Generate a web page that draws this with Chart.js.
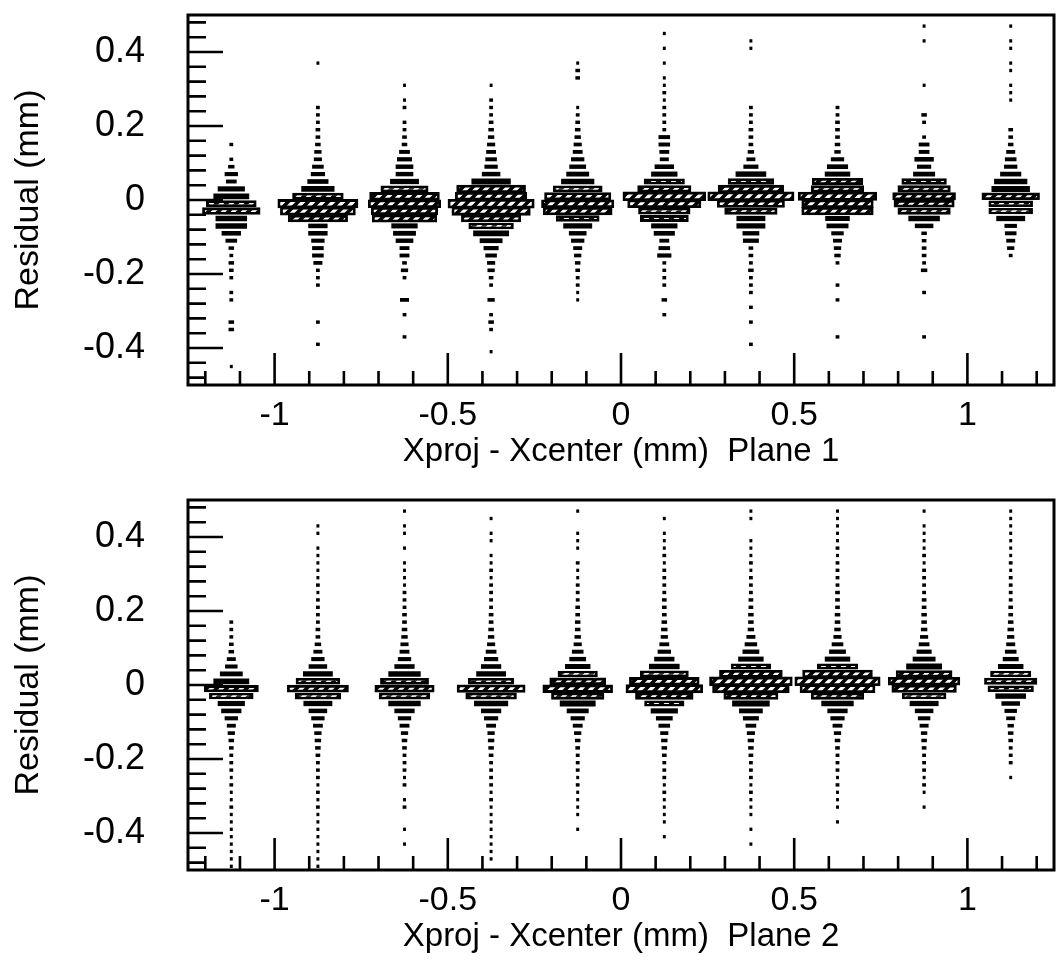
<!DOCTYPE html>
<html>
<head>
<meta charset="utf-8">
<title>Residual vs Xproj - Xcenter</title>
<script src="https://cdn.jsdelivr.net/npm/chart.js@4.4.1/dist/chart.umd.min.js"></script>
<style>
  html, body { margin: 0; padding: 0; background: #fff; }
  .panel { position: absolute; left: 0; width: 1062px; height: 486px; }
  #p1 { top: 0; }
  #p2 { top: 485px; }
</style>
</head>
<body>
<div class="panel" id="p1"><canvas id="plane1Chart"></canvas></div>
<div class="panel" id="p2"><canvas id="plane2Chart"></canvas></div>
<script>
// column centres (mm) and residual bin centres (mm), top row first
const xCenters = [-1.125, -0.875, -0.625, -0.375, -0.125, 0.125, 0.375, 0.625, 0.875, 1.125];
const yCenters = [0.49, 0.47, 0.45, 0.43, 0.41, 0.39, 0.37, 0.35, 0.33, 0.31,
                  0.29, 0.27, 0.25, 0.23, 0.21, 0.19, 0.17, 0.15, 0.13, 0.11,
                  0.09, 0.07, 0.05, 0.03, 0.01, -0.01, -0.03, -0.05, -0.07, -0.09,
                  -0.11, -0.13, -0.15, -0.17, -0.19, -0.21, -0.23, -0.25, -0.27, -0.29,
                  -0.31, -0.33, -0.35, -0.37, -0.39, -0.41, -0.43, -0.45, -0.47, -0.49];
const xTickLabels = [-1, -0.5, 0, 0.5, 1];
const yTickLabels = [-0.4, -0.2, 0, 0.2, 0.4];

// box size per bin, % of the column width (one list per column, rows as yCenters)
const plane1 = [
  [0,0,0,0,0,0,0,0,0,0, 0,0,0,0,0,0,0,3,0,3, 6,14,11,30,40,57,66,35,35,21, 12,5,3,5,4,3,0,3,3,0, 0,5,5,0,0,0,0,2,0,0],
  [0,0,0,0,0,0,2,0,0,0, 0,0,3,3,3,4,4,5,7,8, 12,15,23,37,58,92,86,68,21,21, 14,12,12,9,3,3,3,0,0,0, 0,3,0,0,3,0,0,0,0,0],
  [0,0,0,0,0,0,0,0,0,2, 0,2,3,0,3,3,4,5,11,16, 19,19,32,54,80,83,76,74,29,25, 19,10,10,4,7,3,0,0,9,0, 3,0,0,3,0,0,0,0,0,0],
  [0,0,0,0,0,0,0,0,0,2, 0,3,3,3,4,5,6,8,10,12, 14,20,44,79,82,99,90,68,51,40, 25,16,12,8,7,4,3,0,7,0, 3,5,3,0,0,2,0,0,0,0],
  [0,0,0,0,0,0,2,4,4,0, 0,0,2,3,4,5,6,8,10,14, 18,25,37,56,76,83,79,49,32,19, 14,9,7,5,4,3,3,2,2,0, 0,0,0,0,0,0,0,0,0,0],
  [0,0,2,0,2,0,2,0,2,2, 3,2,3,3,3,3,12,12,10,9, 21,29,46,61,95,84,59,55,29,23, 10,12,15,3,3,3,3,0,5,0, 3,0,0,0,0,0,0,0,0,0],
  [0,0,0,2,2,0,0,0,0,0, 0,0,3,3,3,4,4,4,6,9, 16,34,52,75,99,77,60,32,32,18, 17,4,4,3,5,3,3,3,0,3, 0,3,0,0,3,0,0,0,0,0],
  [0,0,0,0,0,0,0,0,0,0, 0,0,3,3,4,4,4,5,6,14, 23,28,58,60,90,82,82,27,24,13, 9,7,6,3,0,0,3,0,3,0, 0,0,0,3,0,0,0,0,0,0],
  [0,2,0,2,0,0,0,0,0,2, 0,0,0,5,3,0,3,11,11,21, 15,24,51,60,72,69,60,35,20,5, 4,4,4,3,6,0,0,3,0,0, 0,0,0,3,0,0,0,0,0,0],
  [0,2,0,2,2,0,2,2,0,2, 2,2,0,0,0,4,4,5,9,12, 14,23,37,43,66,50,50,32,13,12, 9,7,3,0,0,0,0,0,0,0, 0,0,0,0,0,0,0,0,0,0]
];
const plane2 = [
  [0,0,0,0,0,0,0,0,0,0, 0,0,0,0,0,0,3,3,3,4, 5,9,13,25,40,62,50,30,22,14, 9,7,5,4,3,3,3,2,3,2, 2,3,2,2,2,2,2,2,2,2],
  [0,0,0,2,2,0,2,2,2,2, 2,3,2,3,3,3,3,4,4,6, 9,14,20,33,50,70,52,32,20,14, 10,7,6,5,4,3,3,3,2,3, 2,3,2,2,2,2,2,2,2,2],
  [0,2,0,2,2,0,2,0,2,2, 2,2,3,3,3,4,4,5,6,8, 10,14,22,36,55,68,58,36,22,14, 10,7,5,4,3,3,3,2,3,0, 2,3,0,0,2,0,2,0,0,0],
  [0,0,2,0,2,2,0,2,2,3, 2,3,3,3,3,4,4,5,6,8, 11,15,22,33,52,78,58,38,22,15, 10,7,6,5,4,3,3,3,3,2, 3,2,2,2,2,2,2,2,2,0],
  [0,2,0,0,2,2,2,0,3,2, 2,3,3,3,4,4,5,5,6,8, 12,18,28,45,64,80,60,40,24,15, 10,7,5,4,3,3,3,2,3,2, 2,2,2,0,2,0,0,0,0,0],
  [0,0,2,0,2,2,2,3,2,3, 3,3,3,4,4,4,5,6,7,10, 14,22,34,55,80,88,66,45,30,18, 12,8,6,5,4,3,3,3,2,3, 2,2,2,2,0,2,0,0,0,0],
  [0,2,2,0,0,2,2,2,3,2, 3,3,3,4,4,5,5,6,9,13, 18,28,45,72,95,88,62,42,26,17, 11,8,6,5,4,3,3,3,2,3, 2,2,2,0,2,0,2,0,0,0],
  [0,2,2,2,2,2,3,2,3,3, 3,3,4,4,4,5,5,6,8,12, 18,28,46,80,98,86,60,36,22,15, 10,7,5,4,3,3,3,2,3,2, 2,2,0,2,0,0,0,0,0,0],
  [0,2,0,2,2,2,2,3,2,3, 3,3,3,4,4,5,5,6,8,11, 16,25,40,64,82,74,50,32,20,13, 9,6,5,4,3,3,3,2,3,2, 0,2,0,0,0,0,0,0,0,0],
  [0,2,2,2,2,2,2,2,3,2, 3,3,3,3,4,4,5,6,7,9, 12,17,28,46,60,52,34,20,13,9, 6,5,4,3,3,3,0,2,0,0, 0,0,0,0,0,0,0,0,0,0]
];

const FONT = '"Liberation Sans", Arial, Helvetica, sans-serif';
const colWidth = 0.25;

// diagonal hatch used inside the large boxes
function makeHatch() {
    const c = document.createElement('canvas');
    c.width = 10;
    c.height = 10;
    const g = c.getContext('2d');
    g.fillStyle = '#fff';
    g.fillRect(0, 0, 10, 10);
    g.strokeStyle = '#000';
    g.lineWidth = 3.6;
    g.beginPath();
    g.moveTo(-2, 12); g.lineTo(12, -2);
    g.moveTo(8, 12); g.lineTo(12, 8);
    g.moveTo(-2, 2); g.lineTo(2, -2);
    g.stroke();
    return g.createPattern(c, 'repeat');
}
const hatch = makeHatch();

// one dataset per box size, every box is a floating horizontal bar
function buildDatasets(plane) {
    const groups = {};
    plane.forEach((col, i) => {
        col.forEach((w, r) => {
            if (!w) return;
            const half = w / 100 * colWidth / 2;
            (groups[w] = groups[w] || []).push({ x: [xCenters[i] - half, xCenters[i] + half], y: yCenters[r] });
        });
    });
    return Object.keys(groups).map(Number).sort((a, b) => a - b).map(w => {
        const big = w >= 45;
        return {
            label: 'box ' + w,
            data: groups[w],
            grouped: false,
            barThickness: 2 + w * 0.065,
            inflateAmount: 0.6,
            borderSkipped: false,
            borderWidth: big ? 2.8 : 0,
            borderColor: '#000',
            backgroundColor: big ? hatch : '#000'
        };
    });
}

// frame and inward ticks like the original plot
const frameTicks = {
    id: 'frameTicks',
    afterDatasetsDraw(chart) {
        const { ctx, chartArea: a, scales: { x, y } } = chart;
        ctx.save();
        ctx.strokeStyle = '#000';
        ctx.lineWidth = 2.6;
        ctx.beginPath();
        for (let k = -12; k <= 12; k++) {
            const px = x.getPixelForValue(k / 10);
            const len = k % 5 === 0 ? 32 : 14;
            ctx.moveTo(px, a.bottom);
            ctx.lineTo(px, a.bottom - len);
        }
        for (let k = -12; k <= 12; k++) {
            const py = y.getPixelForValue(k * 0.04);
            const len = k % 5 === 0 ? 35 : 18;
            ctx.moveTo(a.left, py);
            ctx.lineTo(a.left + len, py);
        }
        ctx.stroke();
        ctx.lineWidth = 3;
        ctx.strokeRect(a.left, a.top, a.right - a.left, a.bottom - a.top);
        ctx.restore();
    }
};

function makeChart(canvasId, plane, title) {
    const ctx = document.getElementById(canvasId).getContext('2d');
    return new Chart(ctx, {
        type: 'bar',
        data: { datasets: buildDatasets(plane) },
        plugins: [frameTicks],
        options: {
            indexAxis: 'y',
            responsive: true,
            maintainAspectRatio: false,
            animation: false,
            events: [],
            layout: { padding: { top: 15, right: 8, left: 0, bottom: 0 } },
            plugins: {
                legend: { display: false },
                tooltip: { enabled: false }
            },
            scales: {
                x: {
                    type: 'linear',
                    min: -1.25,
                    max: 1.25,
                    offset: false,
                    grid: { display: false },
                    border: { display: false },
                    afterBuildTicks: s => { s.ticks = xTickLabels.map(v => ({ value: v })); },
                    afterFit: s => { s.height = 101; s.paddingLeft = 0; s.paddingRight = 0; },
                    ticks: {
                        autoSkip: false,
                        maxRotation: 0,
                        padding: 2,
                        color: '#000',
                        font: { family: FONT, size: 34 },
                        callback: v => String(v)
                    },
                    title: {
                        display: true,
                        text: title,
                        color: '#000',
                        font: { family: FONT, size: 33 },
                        padding: { top: 0, bottom: 14 }
                    }
                },
                y: {
                    type: 'linear',
                    min: -0.5,
                    max: 0.5,
                    offset: false,
                    grid: { display: false, offset: false },
                    border: { display: false },
                    afterBuildTicks: s => { s.ticks = yTickLabels.map(v => ({ value: v })); },
                    afterFit: s => { s.width = 188; s.paddingTop = 0; s.paddingBottom = 0; },
                    ticks: {
                        autoSkip: false,
                        padding: 35,
                        color: '#000',
                        font: { family: FONT, size: 36 },
                        callback: v => String(v)
                    },
                    title: {
                        display: true,
                        text: 'Residual (mm)',
                        color: '#000',
                        font: { family: FONT, size: 34 },
                        padding: { top: 8, bottom: 0 }
                    }
                }
            }
        }
    });
}

makeChart('plane1Chart', plane1, 'Xproj - Xcenter (mm)  Plane 1');
makeChart('plane2Chart', plane2, 'Xproj - Xcenter (mm)  Plane 2');
</script>
</body>
</html>
